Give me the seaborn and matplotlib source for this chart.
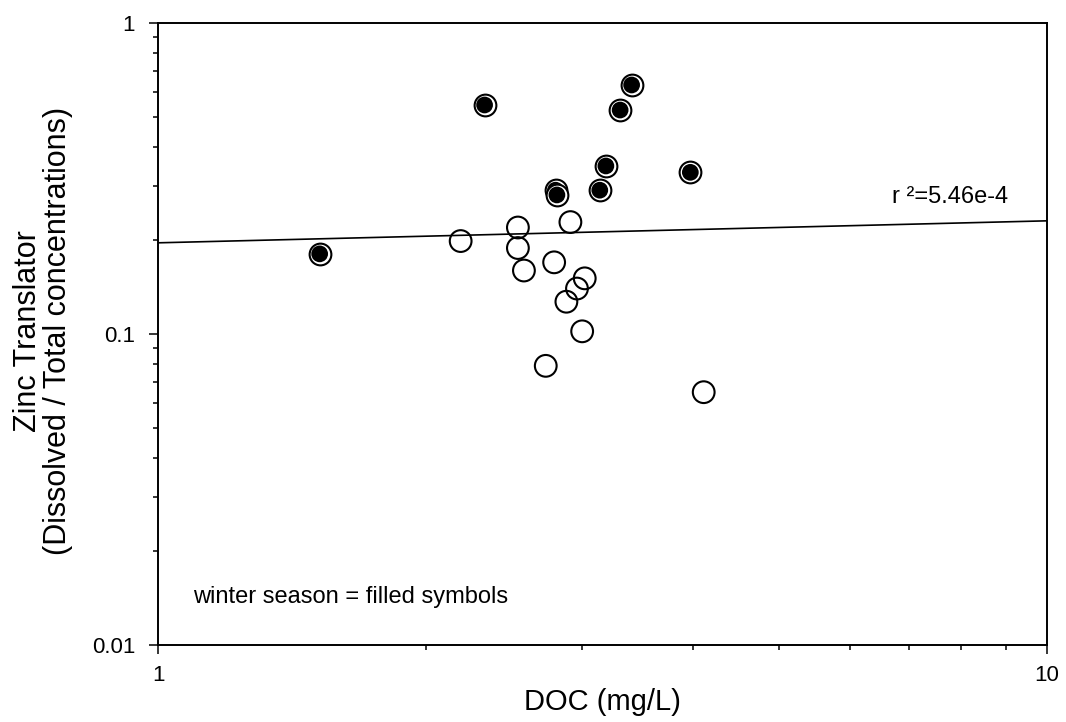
import numpy as np
import pandas as pd
import matplotlib
matplotlib.use("Agg")
import matplotlib.pyplot as plt
from matplotlib.ticker import LogLocator, FuncFormatter, NullFormatter
import seaborn as sns

# DOC (mg/L) and dissolved/total zinc ratio, non-winter samples (open symbols)
open_doc = [2.19, 2.54, 2.54, 2.58, 2.91, 2.79, 3.02, 2.96, 2.88, 3.00, 2.73, 4.11]
open_ratio = [0.199, 0.220, 0.189, 0.160, 0.229, 0.170, 0.151, 0.140, 0.127, 0.102, 0.079, 0.065]

# winter samples (filled symbols)
winter_doc = [1.52, 2.33, 3.41, 3.31, 3.19, 3.14, 2.80, 2.81, 3.97]
winter_ratio = [0.181, 0.545, 0.632, 0.525, 0.347, 0.290, 0.290, 0.280, 0.331]

# log-log regression: log10(ratio) = intercept + slope * log10(DOC)
fit_intercept = -0.7068
fit_slope = 0.0707
fit_r2_label = "r \u00b2=5.46e-4"

x_limits = [1, 10]
y_limits = [0.01, 1]
x_label = "DOC (mg/L)"
y_label = "Zinc Translator\n(Dissolved / Total concentrations)"
note = "winter season = filled symbols"

sns.set_theme(style="ticks")
plt.rcParams["font.family"] = ["Liberation Sans", "DejaVu Sans"]
plt.rcParams["text.color"] = "black"
plt.rcParams["axes.labelcolor"] = "black"
plt.rcParams["xtick.color"] = "black"
plt.rcParams["ytick.color"] = "black"

fig = plt.figure(figsize=(10.66, 7.22), dpi=100)
ax = fig.add_axes([158 / 1066, 1 - 645 / 722, 889 / 1066, 622 / 722])

fit_df = pd.DataFrame({"doc": x_limits})
fit_df["ratio"] = 10 ** (fit_intercept + fit_slope * np.log10(fit_df["doc"]))
sns.lineplot(data=fit_df, x="doc", y="ratio", ax=ax, color="black", lw=1.2, zorder=2)

open_df = pd.DataFrame({"doc": open_doc, "ratio": open_ratio})
winter_df = pd.DataFrame({"doc": winter_doc, "ratio": winter_ratio})

sns.scatterplot(data=open_df, x="doc", y="ratio", ax=ax, s=245, marker="o",
                facecolor="none", edgecolor="black", linewidth=1.5, zorder=3)
for i in range(len(winter_df)):
    row = winter_df.iloc[[i]]
    sns.scatterplot(data=row, x="doc", y="ratio", ax=ax, s=245, marker="o",
                    facecolor="white", edgecolor="black", linewidth=1.5, zorder=4 + 2 * i)
    sns.scatterplot(data=row, x="doc", y="ratio", ax=ax, s=145, marker="o",
                    facecolor="black", edgecolor="none", linewidth=0, zorder=5 + 2 * i)

ax.set_xscale("log")
ax.set_yscale("log")
ax.set_xlim(*x_limits)
ax.set_ylim(*y_limits)

fmt = FuncFormatter(lambda v, p: f"{v:g}")
ax.xaxis.set_major_locator(LogLocator(base=10))
ax.yaxis.set_major_locator(LogLocator(base=10))
ax.xaxis.set_minor_locator(LogLocator(base=10, subs=np.arange(2, 10)))
ax.yaxis.set_minor_locator(LogLocator(base=10, subs=np.arange(2, 10)))
ax.xaxis.set_major_formatter(fmt)
ax.yaxis.set_major_formatter(fmt)
ax.xaxis.set_minor_formatter(NullFormatter())
ax.yaxis.set_minor_formatter(NullFormatter())

for s in ax.spines.values():
    s.set_linewidth(1.4)
    s.set_color("black")

ax.tick_params(which="major", direction="out", length=6.5, width=1.1, colors="black",
               labelsize=16, labelcolor="black", top=False, right=False)
ax.tick_params(which="minor", direction="out", length=3.6, width=1.1, colors="black",
               top=False, right=False)
ax.tick_params(axis="y", which="major", pad=10)
ax.tick_params(axis="x", which="major", pad=8)

ax.set_xlabel(x_label, fontsize=21, color="black")
ax.set_ylabel(y_label, fontsize=22, linespacing=1.0, color="black")
ax.xaxis.set_label_coords(0.5, -0.0916)
ax.xaxis.label.set_va("center")
ax.yaxis.set_label_coords(-0.1295, 0.505)
ax.yaxis.label.set_va("center")

ax.text(0.8256, 0.7207, fit_r2_label, transform=ax.transAxes, fontsize=17,
        ha="left", va="center", color="black")
ax.text(0.0394, 0.0772, note, transform=ax.transAxes, fontsize=17,
        ha="left", va="center", color="black")

ax.set_facecolor("white")
fig.patch.set_facecolor("white")
fig.savefig("out.png", dpi=100)
